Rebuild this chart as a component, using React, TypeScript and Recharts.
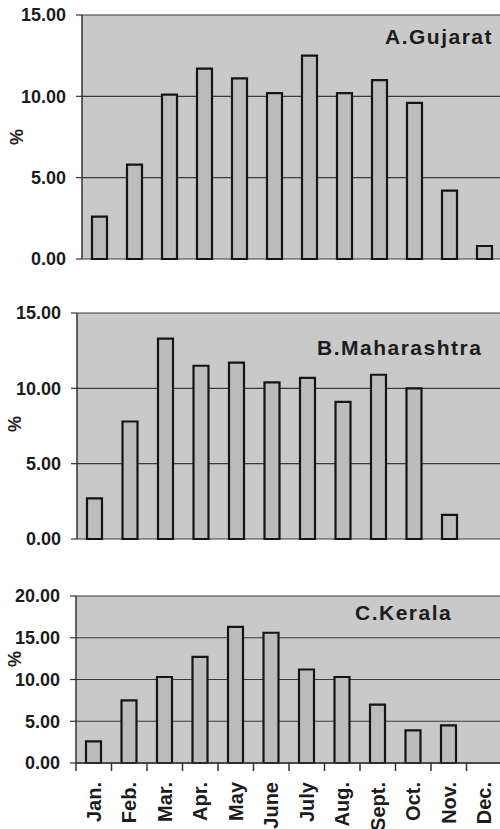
import React from 'react';
import { BarChart, Bar, XAxis, YAxis, CartesianGrid, Label } from 'recharts';

const months = ['Jan.', 'Feb.', 'Mar.', 'Apr.', 'May', 'June', 'July', 'Aug.', 'Sept.', 'Oct.', 'Nov.', 'Dec.'];
const gujarat = [2.6, 5.8, 10.1, 11.7, 11.1, 10.2, 12.5, 10.2, 11.0, 9.6, 4.2, 0.8];
const maharashtra = [2.7, 7.8, 13.3, 11.5, 11.7, 10.4, 10.7, 9.1, 10.9, 10.0, 1.6, 0];
const kerala = [2.6, 7.5, 10.3, 12.7, 16.3, 15.6, 11.2, 10.3, 7.0, 3.9, 4.5, 0];
const ticks15 = [0, 5, 10, 15];
const ticks20 = [0, 5, 10, 15, 20];

const build = (vals: number[]) => months.map((m, i) => ({ month: m, value: vals[i] }));

const FONT = '"Liberation Sans", Arial, sans-serif';
const INK = '#1c1c1c';

const tickStyle = { fontSize: 18, fontWeight: 700, fill: INK, fontFamily: FONT };

const makeLabel = (title: string, titleX: number, titleY: number, pctX: number, pctY: number) =>
  (props: any) => (
    <g>
      <text
        x={pctX}
        y={pctY}
        transform={`rotate(-90, ${pctX}, ${pctY})`}
        textAnchor="middle"
        dy="0.35em"
        fontSize={18}
        fontWeight={700}
        fill={INK}
        fontFamily={FONT}
      >
        %
      </text>
      <text
        x={titleX}
        y={titleY}
        textAnchor="start"
        fontSize={21}
        fontWeight={700}
        fill={INK}
        fontFamily={FONT}
        letterSpacing={1.5}
      >
        {title}
      </text>
    </g>
  );

const XTick = (props: any) => {
  const { x, y, payload } = props;
  const half = 17.75;
  const ty = y + 19;
  return (
    <g>
      <line x1={x - half} y1={y} x2={x - half} y2={y + 8} stroke="#333" strokeWidth={1.5} />
      <text
        x={x}
        y={ty}
        transform={`rotate(-90, ${x}, ${ty})`}
        textAnchor="end"
        dy="0.36em"
        fontSize={20}
        fontWeight={700}
        fill={INK}
        fontFamily={FONT}
      >
        {payload.value}
      </text>
    </g>
  );
};

type PanelProps = {
  data: { month: string; value: number }[];
  top: number;
  height: number;
  margin: { top: number; right: number; bottom: number; left: number };
  yWidth: number;
  domainMax: number;
  yTicks: number[];
  showX: boolean;
  xHeight?: number;
  label: (p: any) => React.ReactElement;
};

const Panel = ({ data, top, height, margin, yWidth, domainMax, yTicks, showX, xHeight, label }: PanelProps) => (
  <div style={{ position: 'absolute', left: 0, top }}>
    <BarChart width={520} height={height} data={data} margin={margin} barCategoryGap={0}>
      <CartesianGrid horizontal vertical={false} stroke="#3a3a3a" strokeWidth={1.2} fill="#c9c9c9" fillOpacity={1} />
      <XAxis
        dataKey="month"
        hide={!showX}
        height={xHeight}
        interval={0}
        axisLine={{ stroke: '#333', strokeWidth: 1.5 }}
        tickLine={false}
        tickSize={0}
        tickMargin={0}
        tick={<XTick />}
      />
      <YAxis
        width={yWidth}
        domain={[0, domainMax]}
        ticks={yTicks}
        interval={0}
        allowDecimals
        tickFormatter={(v: number) => v.toFixed(2)}
        axisLine={{ stroke: '#333', strokeWidth: 1.5 }}
        tickLine={{ stroke: '#333', strokeWidth: 1.2 }}
        tickSize={6}
        tickMargin={10}
        tick={tickStyle}
      >
        <Label content={label} />
      </YAxis>
      <Bar dataKey="value" fill="#bcbcbc" stroke="#151515" strokeWidth={2.2} barSize={15} isAnimationActive={false} />
    </BarChart>
  </div>
);

export default function App() {
  return (
    <div style={{ position: 'absolute', left: 0, top: 0, width: 500, height: 829, overflow: 'hidden', background: '#ffffff' }}>
      <Panel
        data={build(gujarat)}
        top={0}
        height={270}
        margin={{ top: 15, right: 18, bottom: 11, left: 0 }}
        yWidth={82}
        domainMax={15}
        yTicks={ticks15}
        showX={false}
        label={makeLabel('A.Gujarat', 385, 44, 17, 137)}
      />
      <Panel
        data={build(maharashtra)}
        top={280}
        height={270}
        margin={{ top: 33, right: 17, bottom: 11, left: 0 }}
        yWidth={77}
        domainMax={15}
        yTicks={ticks15}
        showX={false}
        label={makeLabel('B.Maharashtra', 317, 75, 15, 144)}
      />
      <Panel
        data={build(kerala)}
        top={560}
        height={269}
        margin={{ top: 36, right: 18, bottom: 0, left: 0 }}
        yWidth={76}
        domainMax={20}
        yTicks={ticks20}
        showX
        xHeight={66}
        label={makeLabel('C.Kerala', 355, 60, 15, 99)}
      />
    </div>
  );
}
